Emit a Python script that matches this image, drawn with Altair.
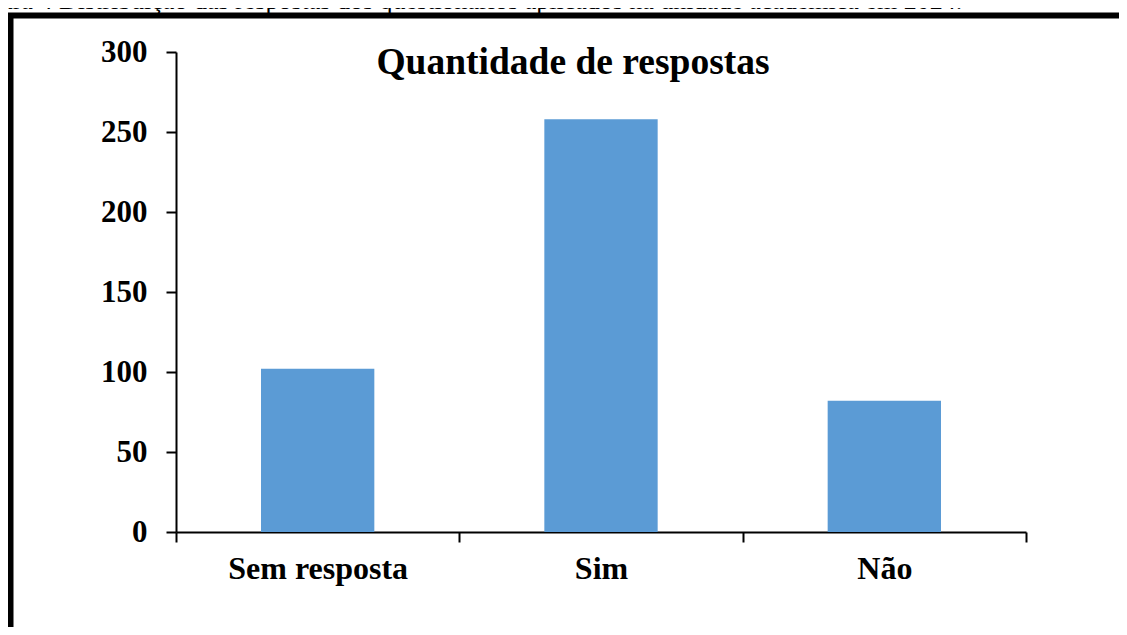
import altair as alt
import pandas as pd

categories = ["Sem resposta", "Sim", "Não"]
values = [102, 258, 82]
y_ticks = [0, 50, 100, 150, 200, 250, 300]
title_text = "Quantidade de respostas"
caption_text = "Figura 4 Distribuição das respostas dos questionários aplicados na unidade acadêmica em 2024."

FONT = "Liberation Serif"
BLUE = "#5B9BD5"

df = pd.DataFrame({"cat": categories, "val": values})
one = pd.DataFrame({"k": [0]})

bars = alt.Chart(df).mark_bar(color=BLUE, width=alt.RelativeBandSize(0.4)).encode(
    x=alt.X(
        "cat:N",
        sort=categories,
        scale=alt.Scale(paddingInner=0, paddingOuter=0),
        axis=alt.Axis(
            title=None, labelAngle=0, tickBand="extent",
            labelFont=FONT, labelFontSize=32, labelFontWeight="bold", labelColor="black",
            labelPadding=11, tickSize=10, tickWidth=2, tickColor="black",
            domainColor="black", domainWidth=2,
        ),
    ),
    y=alt.Y(
        "val:Q",
        scale=alt.Scale(domain=[0, 300], nice=False),
        axis=alt.Axis(
            values=y_ticks, title=None, grid=False,
            labelFont=FONT, labelFontSize=31, labelFontWeight="bold", labelColor="black",
            labelPadding=19, tickSize=10, tickWidth=2, tickColor="black",
            domainColor="black", domainWidth=2,
        ),
    ),
)

frame = alt.Chart(one).mark_rect(fill="transparent", stroke="black", strokeWidth=6).encode(
    x=alt.value(-165.5), x2=alt.value(1000), y=alt.value(-36.5), y2=alt.value(700)
)

caption = alt.Chart(one).mark_text(
    font=FONT, fontSize=26, align="left", baseline="alphabetic", color="black"
).encode(x=alt.value(-211), y=alt.value(-43), text=alt.value(caption_text))

chart = alt.layer(frame, bars, caption).properties(
    width=850,
    height=480,
    padding={"left": 168, "top": 44, "right": 93, "bottom": 95},
    autosize=alt.AutoSizeParams(type="none"),
    title=alt.TitleParams(
        title_text, font=FONT, fontSize=37.5, fontWeight="bold", color="black",
        anchor="middle", frame="group", baseline="alphabetic", offset=-123, dx=-28,
    ),
).configure(
    background="white",
    view=alt.ViewConfig(stroke="transparent", strokeWidth=0),
)

chart.save("out.html", embed_options={"renderer": "svg", "actions": False})
